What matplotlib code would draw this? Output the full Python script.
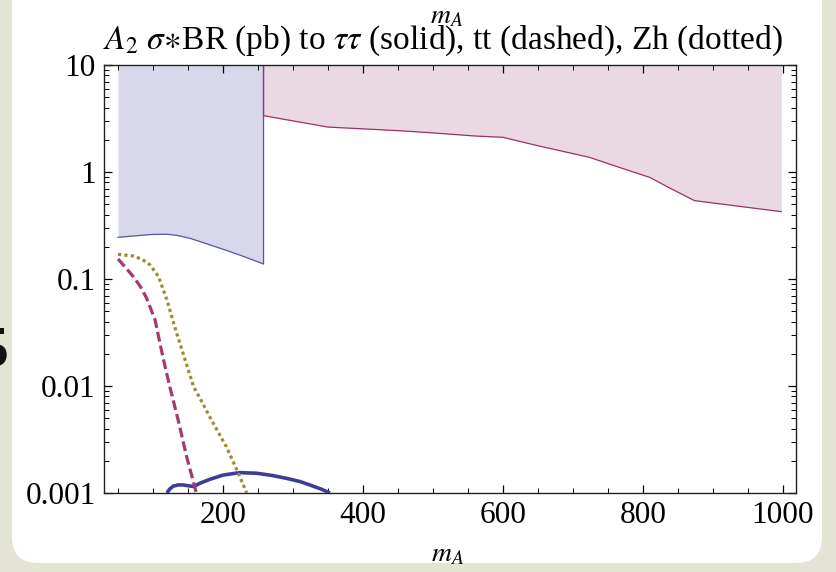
import matplotlib
matplotlib.use("Agg")
import matplotlib.pyplot as plt
import numpy as np
from matplotlib.patches import FancyBboxPatch
from matplotlib.transforms import Affine2D
from matplotlib.ticker import MultipleLocator, LogLocator, NullFormatter, FixedLocator, FixedFormatter

plt.rcParams['font.family'] = ['Liberation Serif', 'DejaVu Serif']
plt.rcParams['mathtext.fontset'] = 'stix'

# ---- data ----
blue_x = [50, 80, 100, 120, 135, 153, 180, 205, 230, 258]
blue_low = [0.245, 0.255, 0.261, 0.262, 0.255, 0.24, 0.21, 0.185, 0.162, 0.138]

pink_x = [258, 350, 453, 500, 560, 600, 650, 724, 760, 810, 840, 874, 998]
pink_low = [3.36, 2.63, 2.43, 2.32, 2.17, 2.11, 1.76, 1.37, 1.14, 0.89, 0.70, 0.54, 0.426]

tt_x = [50, 60, 72, 82, 91, 103, 112, 118, 124, 130, 136, 148, 162]
tt_y = [0.154, 0.13, 0.105, 0.085, 0.066, 0.0414, 0.0217, 0.0145, 0.00986, 0.0069, 0.0048, 0.0022, 0.001]

zh_x = [50, 72, 85, 96, 108, 120, 131, 146, 158, 170, 181, 205, 220, 234]
zh_y = [0.17, 0.164, 0.152, 0.135, 0.105, 0.0637, 0.0358, 0.0175, 0.00986, 0.0071, 0.00516, 0.0027, 0.00164, 0.001]

tau_x = [120, 124, 129, 136, 143, 150, 158, 168, 181, 200, 224, 248, 270, 291, 310, 324, 340, 353]
tau_y = [0.001, 0.00109, 0.00116, 0.00119, 0.00119, 0.00117, 0.00115, 0.00124, 0.00134, 0.00147, 0.00155, 0.00153, 0.00146, 0.00137, 0.00128, 0.00119, 0.00109, 0.001]

x_ticks = [200, 400, 600, 800, 1000]
y_ticks = [0.001, 0.01, 0.1, 1, 10]
y_tick_labels = ["0.001", "0.01", "0.1", "1", "10"]

W, H = 837, 572
fig = plt.figure(figsize=(W / 100, H / 100), dpi=100)
fig.patch.set_facecolor('#e4e4d4')

px = Affine2D().scale(1 / W, 1 / H) + fig.transFigure
panel = FancyBboxPatch((12, 9), 810, 600, boxstyle="round,pad=0,rounding_size=26",
                       transform=px, facecolor='white', edgecolor='none', zorder=-5)
fig.patches.append(panel)

# clipped glyph on the left edge
fig.text(8 / W, 1 - 352 / H, "5", fontsize=40, fontweight='bold', ha='right', va='center', color='#111111')

l, r, t, b = 104, 796, 65, 493
ax = fig.add_axes([l / W, 1 - b / H, (r - l) / W, (b - t) / H])
ax.set_facecolor('none')
ax.set_yscale('log')
ax.set_xlim(30, 1019)
ax.set_ylim(0.001, 10)

# shaded regions
ax.fill_between(blue_x, blue_low, 10, color='#d8d8ea', linewidth=0, zorder=1)
ax.plot(blue_x + [blue_x[-1]], blue_low + [10], color='#5555b0', lw=0.9, zorder=2)
ax.fill_between(pink_x, pink_low, 10, color='#ead8e2', linewidth=0, zorder=1)
ax.plot([pink_x[0]] + pink_x, [10] + pink_low, color='#a0306a', lw=0.9, zorder=2)

# curves
ax.plot(tau_x, tau_y, color='#3d3d99', lw=2.6, solid_capstyle='butt', solid_joinstyle='round', zorder=3)
ax.plot(tt_x, tt_y, color='#a33a72', lw=2.3, dashes=(3.1, 1.3), zorder=3)
ax.plot(zh_x, zh_y, color='#9a8c35', lw=2.3, dashes=(1.0, 1.0), zorder=3)

for s in ax.spines.values():
    s.set_color('#222222')
    s.set_linewidth(1.0)

ax.xaxis.set_major_locator(FixedLocator(x_ticks))
ax.xaxis.set_minor_locator(MultipleLocator(50))
ax.yaxis.set_major_locator(FixedLocator(y_ticks))
ax.yaxis.set_major_formatter(FixedFormatter(y_tick_labels))
ax.yaxis.set_minor_locator(LogLocator(base=10, subs=np.arange(2, 10)))
ax.yaxis.set_minor_formatter(NullFormatter())
ax.tick_params(which='both', direction='in', top=True, right=True, labelsize=22.5, pad=6)
ax.tick_params(which='major', length=6, width=0.9)
ax.tick_params(which='minor', length=3.5, width=0.7)

ax.set_title(r"$A_2\ \sigma\!\ast\!$BR (pb) to $\tau\tau$ (solid), tt (dashed), Zh (dotted)",
             fontsize=24, pad=12, x=0.49)
fig.text(447 / W, 1 - 17 / H, r"$m_A$", fontsize=20, ha='center', va='center')
fig.text(448 / W, 1 - 555 / H, r"$m_A$", fontsize=20, ha='center', va='center')

fig.savefig("out.png", dpi=100)
